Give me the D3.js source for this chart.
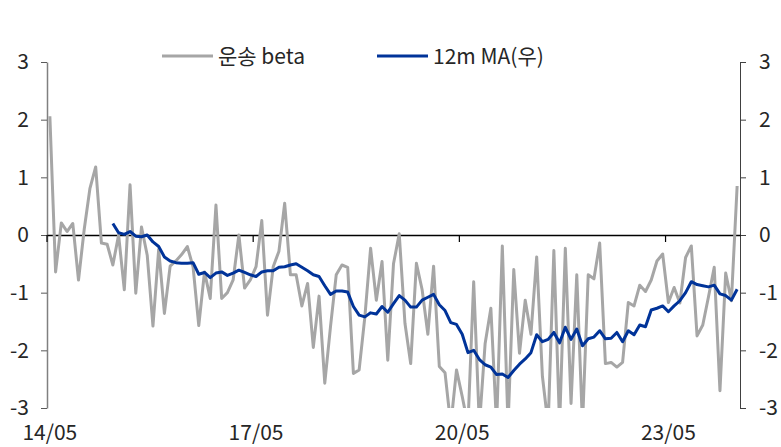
<!DOCTYPE html>
<html>
<head>
<meta charset="utf-8">
<script src="https://cdn.jsdelivr.net/npm/d3@7"></script>
<style>
  html, body { margin: 0; padding: 0; background: #fff; }
  svg { display: block; }
  text { font-family: "Noto Sans CJK KR", "Noto Sans", sans-serif; fill: #262626; }
</style>
</head>
<body>
<svg id="chart" width="781" height="447"></svg>
<script>
// ---- data ----
const startYear = 2014, startMonth = 5, monthCount = 121;
const months = [];
for (let k = 0; k < monthCount; k++) {
  const m = (startMonth - 1 + k) % 12 + 1;
  const y = startYear + Math.floor((startMonth - 1 + k) / 12);
  months.push(String(y % 100).padStart(2, "0") + "/" + String(m).padStart(2, "0"));
}
const tickLabels = ["14/05", "17/05", "20/05", "23/05"];
const yTicks = [-3, -2, -1, 0, 1, 2, 3];
const seriesNames = ["운송 beta", "12m MA(우)"];

// 운송 beta (monthly), values below -3 are cut off by the axis
const betaValues = [
  2.06, -0.64, 0.21, 0.06, 0.20, -0.78, 0.10, 0.81, 1.18, -0.14,
  -0.16, -0.52, 0.00, -0.95, 0.87, -1.01, 0.14, -0.35, -1.58, -0.25,
  -1.36, -0.54, -0.45, -0.34, -0.20, -0.55, -1.57, -0.64, -1.10, 0.52,
  -1.10, -1.00, -0.78, 0.00, -0.92, -0.78, -0.55, 0.25, -1.39, -0.55,
  -0.28, 0.55, -0.69, -0.69, -1.23, -0.84, -1.95, -1.06, -2.57, -1.59,
  -0.69, -0.52, -0.56, -2.40, -2.34, -1.42, -0.23, -1.13, -0.46, -2.17,
  -0.50, 0.02, -1.53, -2.23, -0.49, -0.95, -1.72, -0.54, -2.28, -2.39,
  -3.30, -2.34, -2.80, -3.30, -0.81, -3.30, -1.88, -1.27, -3.30, -0.19,
  -3.30, -0.60, -2.05, -1.13, -1.72, -0.38, -2.45, -3.30, -0.27, -3.30,
  -0.23, -2.92, -0.69, -3.30, -0.69, -0.76, -0.14, -2.23, -2.21, -2.29,
  -2.21, -1.17, -1.23, -0.87, -0.98, -0.78, -0.45, -0.33, -1.17, -0.91,
  -1.18, -0.39, -0.19, -1.75, -1.56, -1.07, -0.56, -2.70, -0.66, -1.14,
  0.85
];

// 12m MA (right axis), starts at the 12th month
const maStartIndex = 11;
const maValues = [
  0.20, 0.04, 0.01, 0.06, -0.02, -0.03, 0.00, -0.12, -0.20, -0.38,
  -0.45, -0.48, -0.49, -0.49, -0.48, -0.68, -0.65, -0.74, -0.66, -0.64,
  -0.70, -0.66, -0.61, -0.65, -0.69, -0.72, -0.64, -0.62, -0.62, -0.56,
  -0.55, -0.52, -0.50, -0.56, -0.62, -0.69, -0.72, -0.88, -1.03, -0.97,
  -0.97, -0.99, -1.24, -1.39, -1.42, -1.35, -1.37, -1.24, -1.34, -1.19,
  -1.05, -1.13, -1.25, -1.25, -1.13, -1.08, -1.03, -1.21, -1.31, -1.52,
  -1.55, -1.72, -2.04, -2.00, -2.16, -2.25, -2.29, -2.42, -2.41, -2.47,
  -2.35, -2.24, -2.15, -2.04, -1.73, -1.85, -1.81, -1.69, -1.87, -1.60,
  -1.81, -1.63, -1.92, -1.80, -1.77, -1.66, -1.80, -1.79, -1.69, -1.85,
  -1.66, -1.73, -1.56, -1.59, -1.30, -1.27, -1.23, -1.33, -1.23, -1.14,
  -1.00, -0.81, -0.86, -0.88, -0.90, -0.87, -1.02, -1.05, -1.13, -0.94
];

(function () {
// ---- layout ----
const svg = d3.select("#chart");
const plotLeft = 47, plotRight = 740, plotTop = 62, plotBottom = 408;
const fontSize = 21;
const fmt = d => String(d);   // plain hyphen-minus like the reference

const x = d3.scaleBand().domain(months).range([plotLeft, plotRight]).paddingInner(0).paddingOuter(0);
const cx = m => x(m) + x.bandwidth() / 2;
const yL = d3.scaleLinear().domain([-3, 3]).range([plotBottom, plotTop]);
const yR = d3.scaleLinear().domain([-3, 3]).range([plotBottom, plotTop]);

svg.append("defs").append("clipPath").attr("id", "plotClip")
  .append("rect").attr("x", plotLeft).attr("y", plotTop)
  .attr("width", plotRight - plotLeft).attr("height", plotBottom - plotTop);

// left axis
const gL = svg.append("g").attr("transform", `translate(${plotLeft},0)`)
  .call(d3.axisLeft(yL).tickValues(yTicks).tickSize(6).tickSizeOuter(0).tickPadding(12).tickFormat(fmt));
gL.select(".domain").attr("stroke", "#808080").attr("stroke-width", 1.5);
gL.selectAll(".tick line").attr("stroke", "#595959");
gL.selectAll(".tick text").style("font-size", fontSize + "px").attr("fill", "#262626");

// right axis
const gR = svg.append("g").attr("transform", `translate(${plotRight},0)`)
  .call(d3.axisRight(yR).tickValues(yTicks).tickSize(6).tickSizeOuter(0).tickPadding(13).tickFormat(fmt));
gR.select(".domain").attr("stroke", "#404040").attr("stroke-width", 1);
gR.selectAll(".tick line").attr("stroke", "#404040");
gR.selectAll(".tick text").style("font-size", fontSize + "px").attr("fill", "#262626");

// zero line as category axis
const gX = svg.append("g").attr("transform", `translate(0,${yL(0)})`)
  .call(d3.axisBottom(x).tickValues(tickLabels).tickSize(7).tickSizeOuter(0).tickFormat(""));
gX.select(".domain").attr("stroke", "#000").attr("stroke-width", 1.5);
gX.selectAll(".tick").attr("transform", d => `translate(${x(d)},0)`);
gX.selectAll(".tick line").attr("stroke", "#000").attr("stroke-width", 1.2);

// category labels at bottom
svg.append("g").selectAll("text").data(tickLabels).join("text")
  .attr("x", d => cx(d)).attr("y", 440)
  .attr("text-anchor", "middle")
  .style("font-size", fontSize + "px")
  .text(d => d);

// lines
const plot = svg.append("g").attr("clip-path", "url(#plotClip)");
const betaLine = d3.line().x((d, i) => cx(months[i])).y(d => yL(d));
plot.append("path").datum(betaValues)
  .attr("d", betaLine).attr("fill", "none")
  .attr("stroke", "#a6a6a6").attr("stroke-width", 3).attr("stroke-linejoin", "round");

const maLine = d3.line().x((d, i) => cx(months[i + maStartIndex])).y(d => yR(d));
plot.append("path").datum(maValues)
  .attr("d", maLine).attr("fill", "none")
  .attr("stroke", "#003399").attr("stroke-width", 3).attr("stroke-linejoin", "round");

// legend
const legendItems = [
  { name: seriesNames[0], color: "#a6a6a6", x: 162 },
  { name: seriesNames[1], color: "#003399", x: 377 }
];
const lg = svg.append("g");
legendItems.forEach(it => {
  lg.append("line").attr("x1", it.x).attr("x2", it.x + 51).attr("y1", 56).attr("y2", 56)
    .attr("stroke", it.color).attr("stroke-width", 3);
  lg.append("text").attr("x", it.x + 56).attr("y", 63.5)
    .style("font-size", fontSize + "px").text(it.name);
});
})();
</script>
</body>
</html>
